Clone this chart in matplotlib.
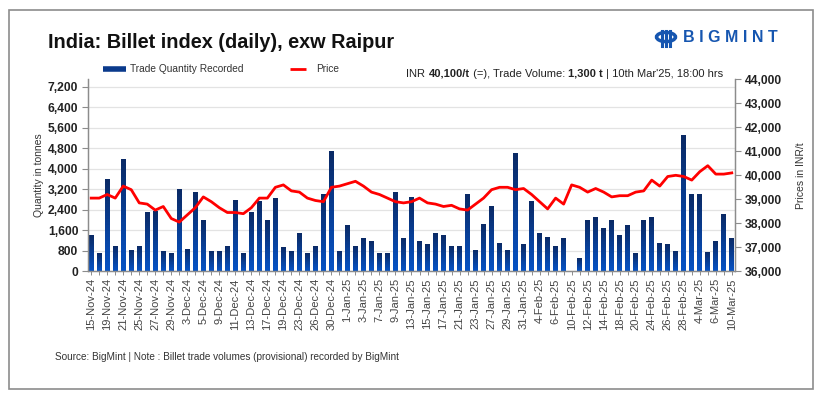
import matplotlib
matplotlib.use("Agg")
import matplotlib.pyplot as plt
import numpy as np
from matplotlib.patches import Rectangle, Circle
from matplotlib.lines import Line2D
from matplotlib.colors import LinearSegmentedColormap

dates = [
    "15-Nov-24", "18-Nov-24", "19-Nov-24", "20-Nov-24", "21-Nov-24", "22-Nov-24", "25-Nov-24", "26-Nov-24",
    "27-Nov-24", "28-Nov-24", "29-Nov-24",
    "2-Dec-24", "3-Dec-24", "4-Dec-24", "5-Dec-24", "6-Dec-24", "9-Dec-24", "10-Dec-24", "11-Dec-24",
    "12-Dec-24", "13-Dec-24", "16-Dec-24", "17-Dec-24", "18-Dec-24", "19-Dec-24", "20-Dec-24", "23-Dec-24",
    "24-Dec-24", "26-Dec-24", "27-Dec-24", "30-Dec-24", "31-Dec-24",
    "1-Jan-25", "2-Jan-25", "3-Jan-25", "6-Jan-25", "7-Jan-25", "8-Jan-25", "9-Jan-25", "10-Jan-25",
    "13-Jan-25", "14-Jan-25", "15-Jan-25", "16-Jan-25", "17-Jan-25", "20-Jan-25", "21-Jan-25", "22-Jan-25",
    "23-Jan-25", "24-Jan-25", "27-Jan-25", "28-Jan-25", "29-Jan-25", "30-Jan-25", "31-Jan-25",
    "3-Feb-25", "4-Feb-25", "5-Feb-25", "6-Feb-25", "7-Feb-25", "10-Feb-25", "11-Feb-25", "12-Feb-25",
    "13-Feb-25", "14-Feb-25", "17-Feb-25", "18-Feb-25", "19-Feb-25", "20-Feb-25", "21-Feb-25", "24-Feb-25",
    "25-Feb-25", "26-Feb-25", "27-Feb-25", "28-Feb-25",
    "3-Mar-25", "4-Mar-25", "5-Mar-25", "6-Mar-25", "7-Mar-25", "10-Mar-25",
]

quantity = [
    1400, 700, 3600, 1000, 4400, 850, 1000, 2300, 2350, 800, 700,
    3200, 880, 3100, 2000, 800, 800, 1000, 2800, 700, 2300, 2750, 2000, 2850, 950, 800,
    1500, 700, 1000, 3000, 4700, 800,
    1800, 1000, 1300, 1200, 700, 700, 3100, 1300, 2900, 1200, 1050, 1500, 1400, 1000,
    1000, 3000, 850, 1850, 2550, 1100, 850, 4600, 1050,
    2750, 1500, 1350, 1000, 1300, 0, 500, 2000, 2100, 1700, 2000, 1400, 1800, 700, 2000,
    2100, 1100, 1050, 800, 5300,
    3000, 3000, 750, 1200, 2250, 1300,
]

price = [
    39050, 39050, 39200, 39050, 39550, 39400, 38850, 38800, 38550, 38700, 38200,
    38050, 38350, 38650, 39100, 38900, 38650, 38450, 38450, 38400, 38650, 39050, 39050, 39500, 39600, 39350,
    39300, 39050, 38950, 38900, 39500, 39550,
    39650, 39750, 39550, 39300, 39200, 39050, 38900, 38850, 38900, 39050, 38850, 38800, 38700, 38750,
    38600, 38550, 38800, 39050, 39400, 39500, 39500, 39400, 39450,
    39200, 38900, 38600, 39050, 38800, 39600, 39500, 39300, 39450, 39300, 39100, 39150, 39150, 39300, 39350,
    39800, 39550, 39950, 40000, 39950,
    39800, 40150, 40400, 40050, 40050, 40100,
]

qty_ticks = [0, 800, 1600, 2400, 3200, 4000, 4800, 5600, 6400, 7200]
price_ticks = [36000, 37000, 38000, 39000, 40000, 41000, 42000, 43000, 44000]

title = "India: Billet index (daily), exw Raipur"
source = "Source: BigMint | Note : Billet trade volumes (provisional) recorded by BigMint"
info_parts = [("INR ", "normal"), ("40,100/t", "bold"), (" (=), Trade Volume: ", "normal"),
              ("1,300 t", "bold"), (" | 10th Mar'25, 18:00 hrs", "normal")]

W, H = 826, 397
plt.rcParams["font.family"] = ["Liberation Sans", "DejaVu Sans"]

fig = plt.figure(figsize=(W / 100, H / 100), dpi=100)
fig.patch.set_facecolor("white")

def fx(px):
    return px / W

def fy(py):
    return 1 - py / H

ax_left, ax_right, ax_top, ax_bot = 88, 735, 79.3, 271.3
ax = fig.add_axes([fx(ax_left), fy(ax_bot), fx(ax_right - ax_left), (ax_bot - ax_top) / H])
ax2 = ax.twinx()

x = np.arange(len(dates))
q = np.array(quantity, dtype=float)
bar_w = 0.6
cmap = LinearSegmentedColormap.from_list("bg", ["#0652c4", "#0a2a66"])
n_steps = 30
for k in range(n_steps):
    frac = k / n_steps
    ax.bar(x, q * (1 - frac), bottom=q * frac, width=bar_w,
           color=cmap(k / (n_steps - 1)), linewidth=0, zorder=2)

ax2.plot(x, price, color="#ff0000", lw=2.0, zorder=5, solid_joinstyle="round")

ax.set_xlim(-0.4, len(dates) - 0.6)
ax.set_ylim(0, 7490)
ax2.set_ylim(36000, 44000)
ax.set_yticks(qty_ticks)
ax.set_yticklabels([f"{v:,}" for v in qty_ticks])
ax2.set_yticks(price_ticks)
ax2.set_yticklabels([f"{v:,}" for v in price_ticks])
ax.set_xticks(x)
ax.set_xticklabels([d if i % 2 == 0 else "" for i, d in enumerate(dates)],
                   rotation=90, fontsize=8, color="#444444")

ax.grid(axis="y", color="#e3e3e3", lw=0.9, zorder=0)
ax.set_axisbelow(True)
for a in (ax, ax2):
    for s in a.spines.values():
        s.set_color("#8c8c8c")
        s.set_linewidth(0.9)
    a.spines["top"].set_visible(False)
ax.tick_params(axis="y", length=4, width=0.8, color="#8c8c8c", labelsize=8.7, pad=3)
ax2.tick_params(axis="y", length=4, width=0.8, color="#8c8c8c", labelsize=8.7, pad=3)
ax.tick_params(axis="x", length=3, width=0.7, color="#8c8c8c", pad=2)
for lab in ax.get_yticklabels() + ax2.get_yticklabels():
    lab.set_fontweight("bold")
    lab.set_color("#222222")
ax.set_zorder(1)
ax2.set_zorder(2)
ax2.patch.set_visible(False)

ax.set_ylabel("Quantity in tonnes", fontsize=7.5, color="#333333", labelpad=3)
ax2.set_ylabel("Prices in INR/t", fontsize=7.5, color="#333333", labelpad=10)

# frame
fig.add_artist(Rectangle((fx(9), fy(389)), fx(813 - 9), (389 - 10) / H, transform=fig.transFigure,
                         fill=False, edgecolor="#8c8c8c", lw=1.2))

# title
fig.text(fx(48), fy(42), title, fontsize=14.3, fontweight="bold",
         color="#111111", va="center", ha="left")

# legend (manual)
fig.add_artist(Line2D([fx(103), fx(126)], [fy(69), fy(69)], lw=4, color="#0a3a8c",
                      transform=fig.transFigure, solid_capstyle="butt"))
fig.text(fx(130), fy(69), "Trade Quantity Recorded", fontsize=7.3, color="#333333", va="center")
fig.add_artist(Line2D([fx(290), fx(306)], [fy(69), fy(69)], lw=2, color="#ff0000",
                      transform=fig.transFigure, solid_capstyle="butt"))
fig.text(fx(316), fy(69), "Price", fontsize=7.3, color="#333333", va="center")

# info line (right aligned, mixed weights)
renderer = fig.canvas.get_renderer()
widths = []
for s, w in info_parts:
    t = fig.text(0, 0, s, fontsize=8, fontweight=w)
    widths.append(t.get_window_extent(renderer).width)
    t.remove()
xpos = 723 - sum(widths)
for (s, w), wd in zip(info_parts, widths):
    fig.text(fx(xpos), fy(77), s, fontsize=8, fontweight=w,
             color="#222222", va="baseline", ha="left")
    xpos += wd

# logo
fig.add_artist(Circle((fx(666), fy(37)), 9.5 / W, transform=fig.transFigure,
                      fill=False, edgecolor="#1656b0", lw=2.5))
for dx in (-4, 0, 4):
    fig.add_artist(Line2D([fx(666 + dx), fx(666 + dx)], [fy(31), fy(46)], lw=2.2,
                          color="#1656b0", transform=fig.transFigure))
fig.text(fx(683), fy(38), "B I G M I N T", fontsize=11.5, fontweight="bold",
         color="#1656b0", va="center", ha="left")

# source
fig.text(fx(55), fy(357), source, fontsize=7.2, color="#333333", va="center")

fig.savefig("out.png", dpi=100, facecolor="white")
